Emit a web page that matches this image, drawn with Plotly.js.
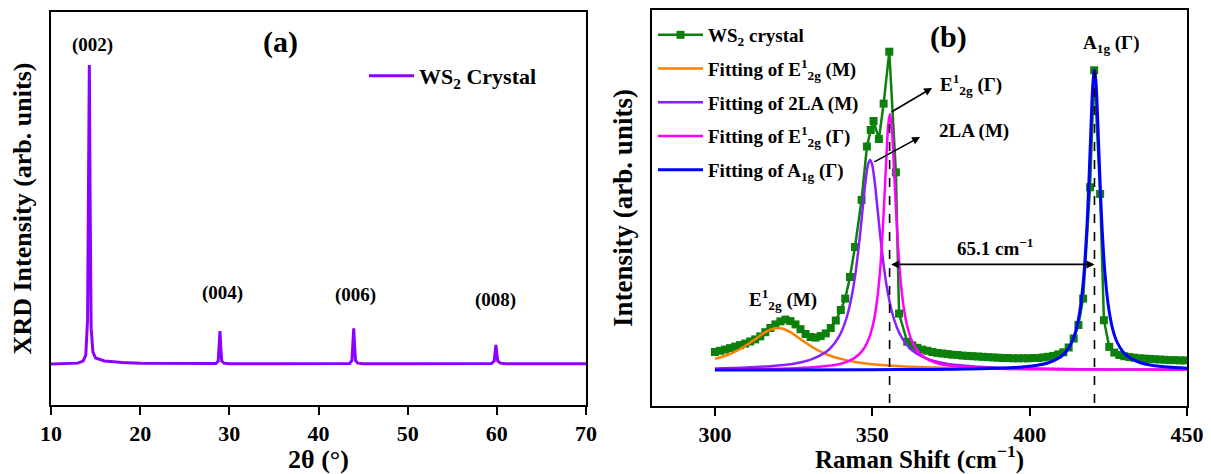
<!DOCTYPE html>
<html>
<head>
<meta charset="utf-8">
<script src="https://cdn.plot.ly/plotly-3.0.1.min.js"></script>
<style>html,body{margin:0;padding:0;background:#fff;}#chart{width:1211px;height:474px;}</style>
</head>
<body>
<div id="chart"></div>
<script>
// ---------- (a) XRD ----------
const xrdTwoTheta = [10, 12, 13.0, 13.6, 13.9, 14.1, 14.2, 14.3, 14.4, 14.5, 14.7, 15.0, 16, 18, 20, 25, 28.5,
  28.75, 28.85, 28.95, 29.05, 29.15, 29.4, 30, 35, 40, 43.5, 43.75, 43.85, 43.95, 44.05, 44.15, 44.4, 45,
  50, 55, 59.4, 59.7, 59.8, 59.9, 60.0, 60.1, 60.4, 61, 65, 70];
const xrdIntensity = [0, 0.001, 0.003, 0.01, 0.03, 0.15, 0.5, 1.0, 0.5, 0.12, 0.04, 0.02, 0.01, 0.005, 0.003, 0.002, 0.002,
  0.01, 0.05, 0.11, 0.05, 0.01, 0.003, 0.001, 0.001, 0.001, 0.002, 0.012, 0.06, 0.119, 0.06, 0.012, 0.003, 0.001,
  0.001, 0.001, 0.002, 0.01, 0.035, 0.064, 0.035, 0.01, 0.003, 0.001, 0.001, 0.001];
const xrdPeakLabels = ["(002)", "(004)", "(006)", "(008)"];
const xrdPeakLabelX = [14.7, 29.2, 44.1, 59.8];
const xrdPeakLabelY = [1.067, 0.237, 0.231, 0.214];

// ---------- (b) Raman ----------
const ramanShift = [300.0, 301.6, 303.2, 304.8, 306.4, 308.0, 309.6, 311.2, 312.8, 314.4, 316.0, 317.6, 319.2, 320.8,
  322.4, 324.0, 325.6, 327.2, 328.8, 330.4, 332.0, 333.6, 335.2, 336.8, 338.4, 340.0, 341.4, 342.9, 344.5, 346.6,
  348.3, 349.5, 350.4, 352.1, 353.6, 355.4, 357.5, 358.5, 361.1, 362.7, 364.3, 365.9, 367.5, 369.1, 370.7, 372.3,
  373.9, 375.5, 377.1, 378.7, 380.3, 381.9, 383.5, 385.1, 386.7, 388.3, 389.9, 391.5, 393.1, 394.7, 396.3, 397.9,
  399.5, 401.1, 402.7, 404.3, 405.9, 407.5, 409.1, 410.7, 412.4, 414.0, 415.5, 417.0, 419.2, 420.5, 422.4, 423.6,
  425.3, 426.9, 428.5, 430.1, 431.7, 433.3, 434.9, 436.5, 438.1, 439.7, 441.3, 442.9, 444.5, 446.1, 447.7, 449.3];
const ramanIntensity = [0.060, 0.064, 0.068, 0.073, 0.078, 0.083, 0.088, 0.095, 0.102, 0.112, 0.126, 0.140, 0.152, 0.162,
  0.168, 0.163, 0.152, 0.136, 0.120, 0.110, 0.108, 0.113, 0.122, 0.140, 0.165, 0.200, 0.238, 0.310, 0.410, 0.567,
  0.745, 0.800, 0.830, 0.770, 0.888, 1.061, 0.659, 0.188, 0.094, 0.082, 0.074, 0.068, 0.064, 0.060, 0.057, 0.055,
  0.053, 0.051, 0.050, 0.048, 0.047, 0.046, 0.045, 0.044, 0.043, 0.042, 0.041, 0.040, 0.040, 0.039, 0.039, 0.039,
  0.039, 0.040, 0.040, 0.042, 0.044, 0.047, 0.052, 0.059, 0.075, 0.105, 0.150, 0.238, 0.609, 0.999, 0.587, 0.166,
  0.077, 0.058, 0.050, 0.046, 0.043, 0.041, 0.039, 0.038, 0.037, 0.036, 0.035, 0.034, 0.033, 0.033, 0.032, 0.032];

const fitE2gM_x = [300, 304, 308, 312, 316, 318, 320, 322, 324, 328, 332, 336, 340, 345, 350, 355, 360, 370, 380, 400, 425, 450];
const fitE2gM_y = [0.037, 0.050, 0.070, 0.097, 0.126, 0.136, 0.140, 0.136, 0.126, 0.097, 0.070, 0.050, 0.037, 0.026, 0.019, 0.015, 0.012, 0.008, 0.005, 0.003, 0.002, 0.001];

const fit2LA_x = [300, 310, 320, 325, 330, 333, 336, 338, 340, 342, 343.5, 344.8, 346, 347, 348, 348.7, 349.3, 349.9,
  350.6, 351.6, 352.6, 353.8, 355.1, 356.6, 358.6, 360.6, 362.6, 365.6, 368.6, 373.6, 378.6, 388.6, 400, 425, 450];
const fit2LA_y = [0.005, 0.008, 0.015, 0.021, 0.033, 0.046, 0.066, 0.089, 0.123, 0.180, 0.248, 0.334, 0.440, 0.544, 0.641, 0.687, 0.700, 0.687,
  0.641, 0.544, 0.440, 0.334, 0.248, 0.180, 0.123, 0.089, 0.066, 0.046, 0.033, 0.021, 0.015, 0.008, 0.005, 0.002, 0.001];

const fitE2gG_x = [300, 320, 330, 336, 340, 343, 345.5, 347.5, 349, 350.3, 351.3, 352.2, 353, 353.8, 354.5, 355.1, 355.6, 356.1,
  356.7, 357.4, 358.2, 359.0, 359.9, 360.9, 362.2, 363.7, 365.7, 368.2, 371.2, 375.2, 381.2, 391.2, 410, 450];
const fitE2gG_y = [0.002, 0.004, 0.008, 0.014, 0.021, 0.032, 0.049, 0.074, 0.107, 0.155, 0.215, 0.299, 0.410, 0.562, 0.714, 0.820, 0.853, 0.820,
  0.714, 0.562, 0.410, 0.299, 0.215, 0.155, 0.107, 0.074, 0.049, 0.032, 0.021, 0.014, 0.008, 0.004, 0.002, 0.001];

const fitA1g_x = [300, 350, 380, 395, 402, 406, 409, 411.5, 413.5, 415, 416.2, 417.2, 418.1, 418.9, 419.6, 420.1, 420.6,
  421.1, 421.6, 422.3, 423.1, 424.0, 425.0, 426.2, 427.7, 429.7, 432.2, 435.2, 439.2, 446.2, 450];
const fitA1g_y = [0.000, 0.001, 0.003, 0.008, 0.015, 0.024, 0.038, 0.060, 0.095, 0.144, 0.215, 0.314, 0.458, 0.647, 0.841, 0.955, 1.000,
  0.955, 0.841, 0.647, 0.458, 0.314, 0.215, 0.144, 0.095, 0.060, 0.038, 0.024, 0.015, 0.008, 0.006];

const peakE2gG = 355.5, peakA1g = 420.6;

const FONT = "Liberation Serif, Times New Roman, serif";
const f = (size) => ({family: FONT, size: size, color: "#000", weight: 700});

const traces = [
  {x: xrdTwoTheta, y: xrdIntensity, xaxis: "x", yaxis: "y", type: "scatter", mode: "lines",
   name: "WS<sub>2</sub> Crystal", line: {color: "#8c00ff", width: 3}, legend: "legend"},
  {x: ramanShift, y: ramanIntensity, xaxis: "x2", yaxis: "y2", type: "scatter", mode: "lines+markers",
   name: "WS<sub>2</sub> crystal", line: {color: "#0b800b", width: 2.5}, marker: {symbol: "square", size: 8, color: "#0b800b"},
   legend: "legend2", legendgroup: "g1"},
  {x: fitE2gM_x, y: fitE2gM_y, xaxis: "x2", yaxis: "y2", type: "scatter", mode: "lines", line: {color: "#ff8000", width: 2.5, shape: "spline"},
   name: "Fitting of E<sup>1</sup><sub>2g</sub> (M)", legend: "legend2", legendgroup: "g2"},
  {x: fit2LA_x, y: fit2LA_y, xaxis: "x2", yaxis: "y2", type: "scatter", mode: "lines", line: {color: "#8a1fff", width: 2.5, shape: "spline"},
   name: "Fitting of 2LA (M)", legend: "legend2", legendgroup: "g3"},
  {x: fitE2gG_x, y: fitE2gG_y, xaxis: "x2", yaxis: "y2", type: "scatter", mode: "lines", line: {color: "#ff00ff", width: 2.5, shape: "spline"},
   name: "Fitting of E<sup>1</sup><sub>2g</sub> (Γ)", legend: "legend2", legendgroup: "g4"},
  {x: fitA1g_x, y: fitA1g_y, xaxis: "x2", yaxis: "y2", type: "scatter", mode: "lines", line: {color: "#0000ff", width: 3, shape: "spline"},
   name: "Fitting of A<sub>1g</sub> (Γ)", legend: "legend2", legendgroup: "g5"}
];

const axisCommon = {showline: true, linewidth: 2, linecolor: "#000", mirror: true, showgrid: false, zeroline: false, automargin: false};

const annotations = [];
xrdPeakLabels.forEach((t, i) => annotations.push({xref: "x", yref: "y", x: xrdPeakLabelX[i], y: xrdPeakLabelY[i], text: t,
  showarrow: false, font: f(19)}));
annotations.push({xref: "x", yref: "y", x: 35.7, y: 1.077, text: "(a)", showarrow: false, font: f(30)});
annotations.push({xref: "x2", yref: "y2", x: 374.1, y: 1.11, text: "(b)", showarrow: false, font: f(30)});
annotations.push({xref: "x2", yref: "y2", x: 425.9, y: 1.085, text: "A<sub>1g</sub> (Γ)", showarrow: false, font: f(19)});
annotations.push({xref: "x2", yref: "y2", x: 381.5, y: 0.95, text: "E<sup>1</sup><sub>2g</sub> (Γ)", showarrow: false, font: f(19)});
annotations.push({xref: "x2", yref: "y2", x: 382.3, y: 0.797, text: "2LA (M)", showarrow: false, font: f(19)});
annotations.push({xref: "x2", yref: "y2", x: 389.0, y: 0.41, text: "65.1 cm<sup>−1</sup>", showarrow: false, font: f(19)});
annotations.push({xref: "x2", yref: "y2", x: 321.6, y: 0.235, text: "E<sup>1</sup><sub>2g</sub> (M)", showarrow: false, font: f(19)});
// arrows
annotations.push({xref: "x2", yref: "y2", axref: "x2", ayref: "y2", x: 369.0, y: 0.94, ax: 355.6, ay: 0.857, text: "",
  showarrow: true, arrowhead: 2, arrowsize: 1, arrowwidth: 1.6, arrowcolor: "#000", standoff: 0, startstandoff: 0});
annotations.push({xref: "x2", yref: "y2", axref: "x2", ayref: "y2", x: 365.2, y: 0.777, ax: 350.2, ay: 0.691, text: "",
  showarrow: true, arrowhead: 2, arrowsize: 1, arrowwidth: 1.6, arrowcolor: "#000", standoff: 0, startstandoff: 0});
annotations.push({xref: "x2", yref: "y2", axref: "x2", ayref: "y2", x: peakA1g, y: 0.352, ax: peakE2gG, ay: 0.352, text: "",
  showarrow: true, arrowhead: 2, startarrowhead: 2, arrowside: "end+start", arrowsize: 1, startarrowsize: 1, arrowwidth: 1.6,
  arrowcolor: "#000", standoff: 0, startstandoff: 0});

const shapes = [
  {type: "line", xref: "x2", yref: "y2", x0: peakE2gG, x1: peakE2gG, y0: 0.82, y1: -0.12, line: {color: "#000", width: 1.6, dash: "dash"}},
  {type: "line", xref: "x2", yref: "y2", x0: peakA1g, x1: peakA1g, y0: 1.0, y1: -0.12, line: {color: "#000", width: 1.6, dash: "dash"}}
];

const layout = {
  width: 1211, height: 474,
  margin: {l: 0, r: 0, t: 0, b: 0},
  paper_bgcolor: "#fff", plot_bgcolor: "#fff",
  font: f(19),
  showlegend: true,
  xaxis: Object.assign({}, axisCommon, {domain: [51/1211, 586/1211], range: [10, 70], tickvals: [10, 20, 30, 40, 50, 60, 70],
    ticks: "outside", ticklen: 8, tickwidth: 2, tickcolor: "#000", tickfont: f(22),
    title: {text: "2θ (°)", font: f(26), standoff: 3}, anchor: "y"}),
  yaxis: Object.assign({}, axisCommon, {domain: [1 - 405/474, 1 - 12/474], range: [-0.137, 1.177], showticklabels: false, ticks: "",
    title: {text: "XRD Intensity (arb. units)", font: f(26), standoff: 10}, anchor: "x"}),
  xaxis2: Object.assign({}, axisCommon, {domain: [652/1211, 1187/1211], range: [280, 450], tickvals: [300, 350, 400, 450],
    ticks: "outside", ticklen: 8, tickwidth: 2, tickcolor: "#000", tickfont: f(22),
    title: {text: "Raman Shift (cm<sup>−1</sup>)", font: f(25), standoff: 5}, anchor: "y2"}),
  yaxis2: Object.assign({}, axisCommon, {domain: [1 - 406/474, 1 - 10/474], range: [-0.12, 1.2], showticklabels: false, ticks: "",
    title: {text: "Intensity (arb. units)", font: f(27), standoff: 10}, anchor: "x2"}),
  legend: {x: 364/1211, y: 1 - 55/474, xanchor: "left", yanchor: "top", bgcolor: "rgba(0,0,0,0)", font: f(22), itemwidth: 45},
  legend2: {x: 653/1211, y: 1 - 16/474, xanchor: "left", yanchor: "top", bgcolor: "rgba(0,0,0,0)", font: f(19),
    itemwidth: 45, tracegroupgap: 6},
  annotations: annotations,
  shapes: shapes
};

Plotly.newPlot("chart", traces, layout, {displayModeBar: false, staticPlot: true});
</script>
</body>
</html>
